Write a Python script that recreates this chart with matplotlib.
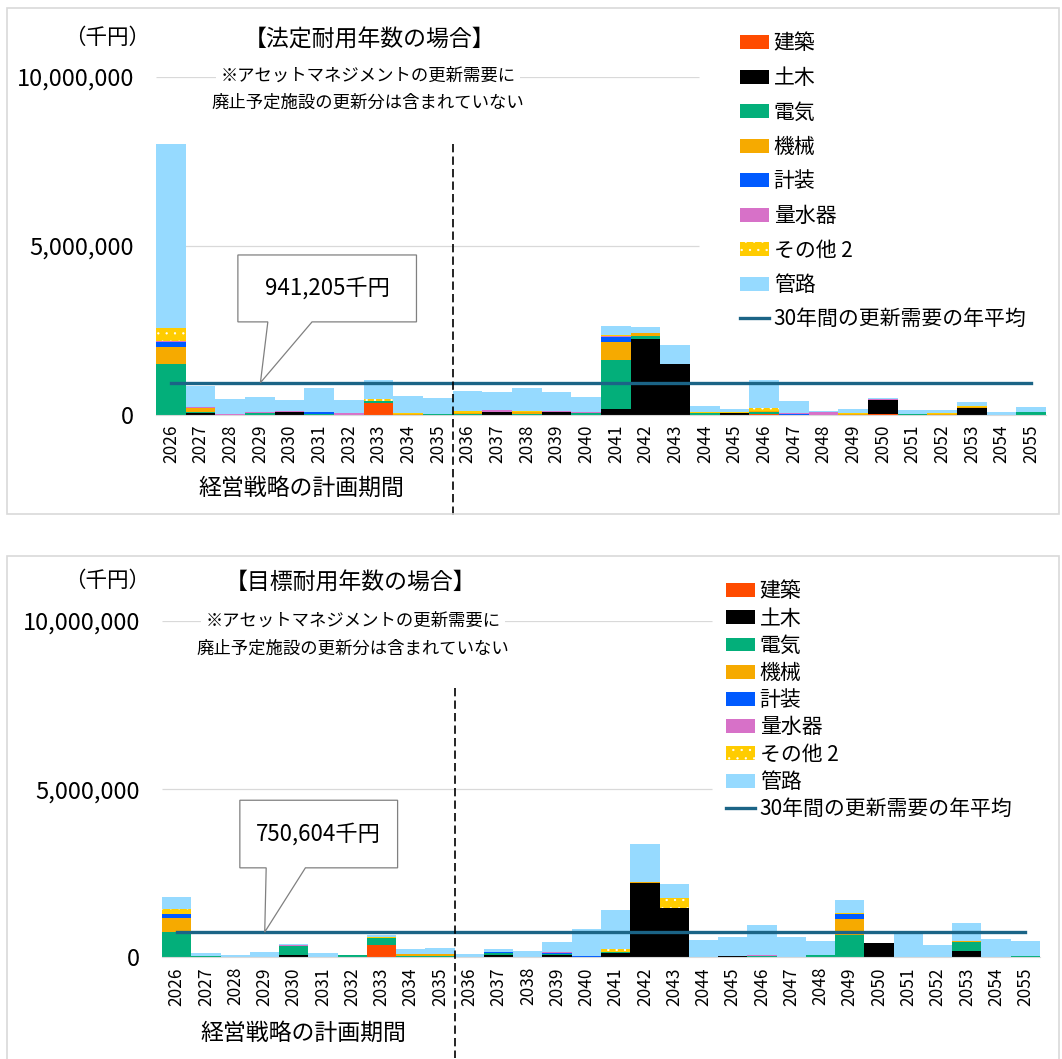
import numpy as np
import matplotlib.pyplot as plt
from matplotlib.patches import Polygon, Rectangle
from matplotlib.ticker import FuncFormatter

plt.rcParams['font.family'] = ['Noto Sans CJK JP', 'DejaVu Sans']
plt.rcParams['hatch.linewidth'] = 0.4

W, H = 1062, 1059

# 年度（2026～2055）
years = list(range(2026, 2056))

# 区分ごとの名前と色（積み上げは下から順）
series_names = ['建築', '土木', '電気', '機械', '計装', '量水器', 'その他 2', '管路']
series_colors = ['#FF4B00', '#000000', '#03AF7A', '#F6AA00', '#005AFF', '#D771C8', '#FFCC00', '#96DAFF']
avg_label = '30年間の更新需要の年平均'
avg_color = '#1B6486'

# 法定耐用年数の場合（千円）
legal_kenchiku = [0, 0, 0, 0, 0, 0, 0, 350000, 0, 0,
                  0, 0, 0, 0, 0, 0, 0, 0, 0, 0,
                  20000, 0, 0, 0, 10000, 0, 0, 0, 0, 0]
legal_doboku = [0, 30000, 0, 0, 60000, 0, 0, 0, 0, 0,
                0, 80000, 0, 60000, 0, 170000, 2220000, 1480000, 0, 40000,
                0, 0, 0, 0, 430000, 0, 0, 200000, 0, 0]
legal_denki = [1480000, 50000, 0, 30000, 0, 20000, 0, 60000, 0, 10000,
               20000, 0, 20000, 0, 50000, 1440000, 90000, 0, 30000, 0,
               50000, 0, 0, 0, 0, 10000, 0, 0, 0, 60000]
legal_kikai = [520000, 120000, 0, 0, 0, 0, 0, 0, 20000, 0,
               30000, 0, 40000, 0, 0, 540000, 100000, 0, 20000, 0,
               30000, 0, 0, 20000, 0, 0, 20000, 30000, 0, 0]
legal_keiso = [140000, 0, 0, 0, 0, 50000, 0, 0, 0, 0,
               0, 0, 0, 0, 0, 150000, 0, 0, 0, 0,
               0, 10000, 0, 0, 0, 0, 0, 0, 0, 0]
legal_meter = [20000, 10000, 20000, 50000, 50000, 0, 30000, 0, 0, 0,
               0, 40000, 0, 30000, 10000, 20000, 0, 20000, 0, 0,
               0, 40000, 60000, 0, 30000, 0, 0, 0, 0, 20000]
legal_other = [410000, 0, 0, 0, 0, 0, 0, 40000, 30000, 10000,
               50000, 0, 50000, 0, 0, 30000, 0, 0, 30000, 20000,
               90000, 0, 0, 30000, 0, 0, 10000, 30000, 0, 0]
legal_pipe = [5430000, 640000, 450000, 450000, 320000, 720000, 400000, 570000, 510000, 470000,
              600000, 540000, 670000, 580000, 470000, 270000, 180000, 560000, 180000, 100000,
              830000, 350000, 40000, 110000, 30000, 120000, 100000, 100000, 60000, 150000]
legal_avg = 941205

# 目標耐用年数の場合（千円）
target_kenchiku = [0, 0, 0, 10000, 0, 0, 0, 360000, 0, 0,
                   0, 0, 0, 0, 0, 0, 0, 0, 0, 0,
                   20000, 0, 0, 0, 10000, 0, 0, 0, 20000, 0]
target_doboku = [0, 0, 0, 0, 70000, 0, 0, 0, 0, 0,
                 0, 70000, 0, 70000, 0, 120000, 2220000, 1470000, 0, 40000,
                 0, 0, 0, 0, 410000, 0, 0, 200000, 0, 0]
target_denki = [760000, 40000, 0, 0, 270000, 20000, 60000, 200000, 50000, 50000,
                10000, 70000, 0, 30000, 0, 40000, 0, 0, 0, 0,
                30000, 0, 60000, 660000, 0, 0, 0, 260000, 0, 40000]
target_kikai = [400000, 0, 0, 0, 0, 0, 0, 0, 40000, 40000,
                0, 0, 10000, 0, 0, 0, 30000, 0, 10000, 0,
                0, 0, 0, 480000, 0, 0, 0, 20000, 0, 0]
target_keiso = [120000, 0, 0, 0, 0, 0, 0, 0, 0, 0,
                0, 30000, 0, 20000, 40000, 0, 0, 0, 0, 0,
                0, 0, 0, 140000, 0, 0, 0, 0, 0, 0]
target_meter = [20000, 0, 10000, 10000, 30000, 0, 0, 20000, 0, 0,
                0, 0, 0, 30000, 0, 0, 0, 0, 0, 0,
                30000, 10000, 0, 0, 10000, 0, 0, 0, 0, 0]
target_other = [140000, 0, 0, 0, 0, 0, 0, 20000, 0, 0,
                0, 0, 10000, 0, 0, 80000, 0, 300000, 10000, 0,
                0, 0, 0, 40000, 0, 0, 0, 10000, 0, 0]
target_pipe = [340000, 100000, 60000, 150000, 30000, 120000, 10000, 60000, 150000, 190000,
               90000, 80000, 180000, 310000, 800000, 1170000, 1120000, 400000, 490000, 570000,
               880000, 580000, 430000, 380000, 0, 690000, 370000, 540000, 510000, 450000]
target_avg = 750604


def px(x, y):
    # 画素位置 -> figure座標
    return x / W, 1 - y / H


def draw_panel(ax, stacks, avg, grid_end, callout):
    x = np.arange(len(years))
    bottom = np.zeros(len(years))
    for name, vals, color in zip(series_names, stacks, series_colors):
        vals = np.array(vals, dtype=float)
        if name == 'その他 2':
            ax.bar(x, vals, width=1.0, bottom=bottom, color=color, edgecolor='white',
                   hatch='..', linewidth=0, label=name, zorder=2)
        else:
            ax.bar(x, vals, width=1.0, bottom=bottom, color=color, linewidth=0,
                   label=name, zorder=2)
        bottom += vals

    ax.plot(x, [avg] * len(x), color=avg_color, lw=2.4, zorder=3, label=avg_label)

    ax.set_xlim(-0.5, len(years) - 0.5)
    ax.set_ylim(0, 10000000)
    ax.set_yticks([0, 5000000, 10000000])
    ax.yaxis.set_major_formatter(FuncFormatter(lambda v, p: f'{v:,.0f}'))
    ax.set_xticks(x)
    ax.set_xticklabels([str(y) for y in years], rotation=90)
    ax.tick_params(axis='y', length=0, labelsize=17, pad=16)
    ax.tick_params(axis='x', length=0, labelsize=12.5, pad=7)
    for s in ['top', 'right', 'left']:
        ax.spines[s].set_visible(False)
    ax.spines['bottom'].set_color('#D9D9D9')

    # 目盛線（凡例の手前まで）
    ax.hlines([5000000, 10000000], -0.5, grid_end, color='#D9D9D9', lw=0.9, zorder=1)

    # 経営戦略の計画期間の区切り
    ax.plot([9.5, 9.5], [8000000, -3000000], color='black', lw=1.2,
            linestyle=(0, (5, 2.5)), clip_on=False, zorder=4)

    # 年平均の吹き出し
    bx0, bx1, by0, by1, b0, b1, tip = callout
    pts = [(bx0, by1), (bx1, by1), (bx1, by0), (b1, by0), (tip, avg), (b0, by0), (bx0, by0)]
    ax.add_patch(Polygon(pts, closed=True, facecolor='white', edgecolor='#808080',
                         lw=0.9, zorder=5, clip_on=False))
    ax.text((bx0 + bx1) / 2, (by0 + by1) / 2, f'{avg:,}千円', ha='center', va='center',
            fontsize=16, zorder=6)


fig = plt.figure(figsize=(W / 100, H / 100), dpi=100)

# パネル枠
for (x0, y0, x1, y1) in [(7, 8, 1059, 514), (7, 556, 1059, 1062)]:
    fig.add_artist(Rectangle(px(x0, y1), (x1 - x0) / W, (y1 - y0) / H, transform=fig.transFigure,
                             fill=False, edgecolor='#D9D9D9', lw=1.2))

ax1 = fig.add_axes([156 / W, 1 - 414.5 / H, 890 / W, 338 / H])
draw_panel(ax1,
           [legal_kenchiku, legal_doboku, legal_denki, legal_kikai,
            legal_keiso, legal_meter, legal_other, legal_pipe],
           legal_avg, 17.8, (2.26, 8.28, 2740000, 4720000, 3.27, 4.76, 3.02))

ax2 = fig.add_axes([162 / W, 1 - 957.3 / H, 878 / W, 336.3 / H])
draw_panel(ax2,
           [target_kenchiku, target_doboku, target_denki, target_kikai,
            target_keiso, target_meter, target_other, target_pipe],
           target_avg, 18.3, (2.16, 7.55, 2660000, 4670000, 3.06, 4.40, 3.01))

# 見出しと注記
note1 = '※アセットマネジメントの更新需要に'
note2 = '廃止予定施設の更新分は含まれていない'
white_box = dict(facecolor='white', edgecolor='none', pad=3)
for title, ty, cx, n1y, n2y, ncx, ly, lcx in [
        ('【法定耐用年数の場合】', 40, 370, 76, 103, 368, 488, 301),
        ('【目標耐用年数の場合】', 583, 351, 621, 649, 353, 1033, 303)]:
    fig.text(*px(107, ty - 2), '（千円）', ha='center', va='center', fontsize=15.5)
    fig.text(*px(cx, ty), title, ha='center', va='center', fontsize=16.5)
    fig.text(*px(ncx, n1y), note1, ha='center', va='center', fontsize=12.5, bbox=white_box)
    fig.text(*px(ncx, n2y), note2, ha='center', va='center', fontsize=12.5)
    fig.text(*px(lcx, ly), '経営戦略の計画期間', ha='center', va='center', fontsize=16.5)

# 凡例（平均線は最後）
for ax, anchor, spacing in [(ax1, (730, 22), 0.6), (ax2, (716, 570), 0.25)]:
    handles, labels = ax.get_legend_handles_labels()
    handles = handles[1:] + handles[:1]
    labels = labels[1:] + labels[:1]
    ax.legend(handles, labels, loc='upper left', bbox_to_anchor=px(*anchor),
              bbox_transform=fig.transFigure, frameon=False, fontsize=15,
              handlelength=1.35, handleheight=0.65, handletextpad=0.25,
              labelspacing=spacing, borderpad=0)

fig.savefig('out.png', dpi=100)
